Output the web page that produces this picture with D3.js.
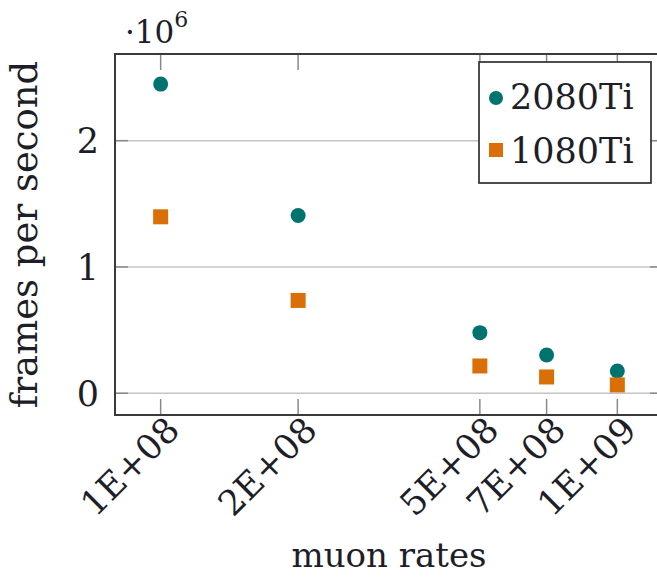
<!DOCTYPE html>
<html>
<head>
<meta charset="utf-8">
<script src="https://cdn.jsdelivr.net/npm/d3@7"></script>
<style>
  body { margin: 0; background: #fff; }
  #plot { font-family: "DejaVu Serif", serif; }
  #plot text { fill: #1e1e28; }
</style>
</head>
<body>
<div id="plot"></div>
<script>
// data
var rates = [1e8, 2e8, 5e8, 7e8, 1e9];
var rateLabels = ["1E+08", "2E+08", "5E+08", "7E+08", "1E+09"];
var fps2080 = [2.448, 1.407, 0.480, 0.303, 0.176];   // x 10^6
var fps1080 = [1.397, 0.735, 0.216, 0.129, 0.066];   // x 10^6
var yTicks = [0, 1, 2];
var seriesNames = ["2080Ti", "1080Ti"];

var width = 657, height = 577;
var margin = {left: 115, top: 54, right: -6, bottom: 162};

var svg = d3.select("#plot").append("svg")
    .attr("width", width)
    .attr("height", height);

var x0 = margin.left, x1 = width - margin.right,
    y0 = margin.top, y1 = height - margin.bottom;

// pgfplots style: enlarge limits by 10% of range
var lx = [Math.log10(d3.min(rates)), Math.log10(d3.max(rates))];
var lpad = (lx[1] - lx[0]) * 0.1;
var x = d3.scaleLog()
    .domain([Math.pow(10, lx[0] - lpad), Math.pow(10, lx[1] + lpad)])
    .range([x0, x1]);

var all = fps2080.concat(fps1080);
var ymin = d3.min(all), ymax = d3.max(all), ypad = (ymax - ymin) * 0.1;
var y = d3.scaleLinear()
    .domain([ymin - ypad, ymax + ypad])
    .range([y1, y0]);

var teal = "#00736f", orange = "#d96f06";

// grid lines
svg.append("g").selectAll("line")
    .data(yTicks).enter().append("line")
    .attr("x1", x0).attr("x2", x1)
    .attr("y1", function(d) { return y(d); })
    .attr("y2", function(d) { return y(d); })
    .style("stroke", "#c4c4c4")
    .style("stroke-width", 1.5);

// inner ticks
var tk = svg.append("g").style("stroke", "#8a8a8a").style("stroke-width", 1.5);
rates.forEach(function(r) {
    tk.append("line").attr("x1", x(r)).attr("x2", x(r)).attr("y1", y1).attr("y2", y1 - 16);
    tk.append("line").attr("x1", x(r)).attr("x2", x(r)).attr("y1", y0).attr("y2", y0 + 16);
});
yTicks.forEach(function(t) {
    tk.append("line").attr("x1", x0).attr("x2", x0 + 13).attr("y1", y(t)).attr("y2", y(t));
    tk.append("line").attr("x1", x1).attr("x2", x1 - 13).attr("y1", y(t)).attr("y2", y(t));
});

// frame
svg.append("rect")
    .attr("x", x0).attr("y", y0)
    .attr("width", x1 - x0).attr("height", y1 - y0)
    .style("fill", "none")
    .style("stroke", "#3a3a3a")
    .style("stroke-width", 2);

// tick labels
svg.append("g").selectAll("text")
    .data(yTicks).enter().append("text")
    .attr("x", x0 - 16)
    .attr("y", function(d) { return y(d); })
    .attr("dy", "0.36em")
    .attr("text-anchor", "end")
    .style("font-size", "35px")
    .text(function(d) { return d; });

svg.append("g").selectAll("text")
    .data(rates).enter().append("text")
    .attr("transform", function(d) { return "translate(" + (x(d) + 12) + "," + (y1 + 8) + ") rotate(-45)"; })
    .attr("dy", "0.36em")
    .attr("text-anchor", "end")
    .style("font-size", "35px")
    .text(function(d, i) { return rateLabels[i]; });

// scale factor label
var sf = svg.append("text")
    .attr("x", 125).attr("y", 43)
    .style("font-size", "31px");
sf.append("tspan").text("\u00b710");
sf.append("tspan").attr("dy", -16).style("font-size", "22px").text("6");

// axis labels
svg.append("text")
    .attr("x", (x0 + x1) / 2).attr("y", 567)
    .attr("text-anchor", "middle")
    .style("font-size", "34px")
    .text("muon rates");

svg.append("text")
    .attr("transform", "translate(37," + ((y0 + y1) / 2) + ") rotate(-90)")
    .attr("text-anchor", "middle")
    .style("font-size", "37px")
    .text("frames per second");

// marks
var body = svg.append("g");
body.selectAll(".dot2080")
    .data(rates).enter().append("circle")
    .attr("class", "dot2080")
    .attr("cx", function(d) { return x(d); })
    .attr("cy", function(d, i) { return y(fps2080[i]); })
    .attr("r", 7.5)
    .style("fill", teal);
body.selectAll(".sq1080")
    .data(rates).enter().append("rect")
    .attr("class", "sq1080")
    .attr("x", function(d) { return x(d) - 7.5; })
    .attr("y", function(d, i) { return y(fps1080[i]) - 7.5; })
    .attr("width", 15).attr("height", 15)
    .style("fill", orange);

// legend
var lg = svg.append("g").attr("transform", "translate(479,62)");
lg.append("rect")
    .attr("width", 172).attr("height", 121)
    .style("fill", "#fff")
    .style("stroke", "#3a3a3a")
    .style("stroke-width", 1.8);
lg.append("circle").attr("cx", 17).attr("cy", 36).attr("r", 7).style("fill", teal);
lg.append("rect").attr("x", 10).attr("y", 81).attr("width", 14).attr("height", 14).style("fill", orange);
lg.selectAll(".lab")
    .data(seriesNames).enter().append("text")
    .attr("class", "lab")
    .attr("x", 31)
    .attr("y", function(d, i) { return 47 + i * 54; })
    .style("font-size", "35px")
    .text(function(d) { return d; });
</script>
</body>
</html>
